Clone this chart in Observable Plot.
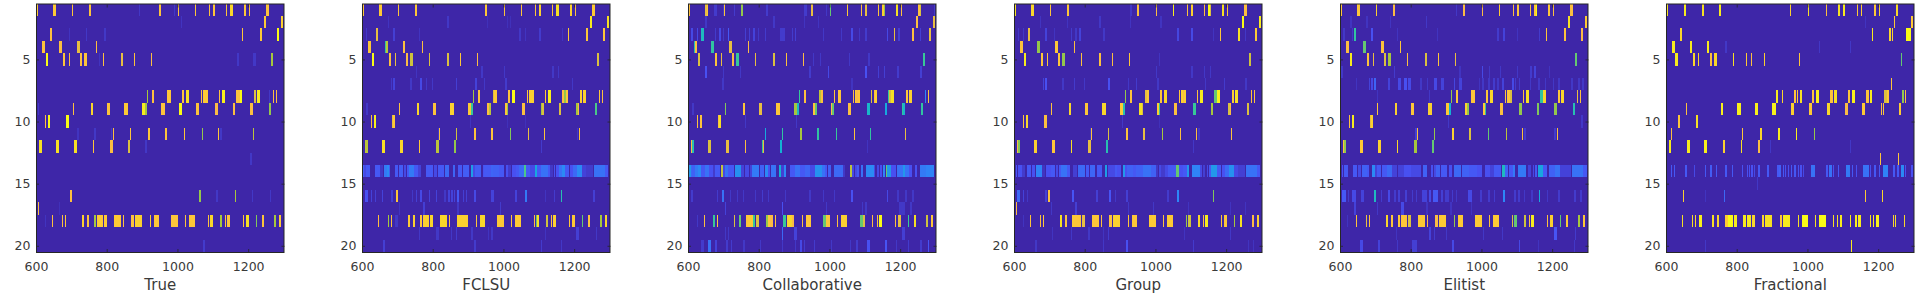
<!DOCTYPE html>
<html><head><meta charset="utf-8">
<script src="https://cdn.jsdelivr.net/npm/d3@7"></script>
<script src="https://cdn.jsdelivr.net/npm/@observablehq/plot@0.6"></script>
<style>
html,body{margin:0;padding:0;background:#fff;width:1917px;height:293px;overflow:hidden}
.p{position:absolute;top:0}
svg{display:block}
</style></head><body><div id="c"></div>
<script>
const parulaStops=[0,.125,.25,.375,.5,.625,.75,.88,.95,1];
const parulaColors=["#3E26A8","#4852F4","#2D87F7","#11B1D6","#37C897","#ABC739","#FBBB45","#FDC935","#F6E024","#F9FB15"];
const xTicks=[600,800,1000,1200];
const yTicks=[5,10,15,20];
const titles=["True","FCLSU","Collaborative","Group","Elitist","Fractional"];
const panelLeft=[0,326.3,652.3,978,1304.3,1630.3];

const trueBars=[
[1,602,605,.88],[1,648,657,.88],[1,702,705,.85],[1,750,755,.82],[1,890,895,.05],[1,948,954,.82],[1,990,993,.05],[1,1001,1005,.82],[1,1050,1053,.85],[1,1090,1093,.8],[1,1101,1107,.85],[1,1137,1140,.85],[1,1149,1158,.92],[1,1189,1194,.85],[1,1202,1205,.8],[1,1251,1259,.82],
[2,1010,1013,.04],[2,1246,1251,.88],[2,1293,1299,.9],
[3,640,645,.8],[3,693,696,.04],[3,741,744,.05],[3,792,798,.05],[3,1183,1186,.85],[3,1234,1240,.88],[3,1282,1288,1],
[4,617,625,.82],[4,665,674,.78],[4,716,725,.72],[4,770,773,.78],
[5,628,634,1],[5,676,682,.82],[5,693,696,.8],[5,725,730,.8],[5,736,744,.82],[5,778,781,.04],[5,790,792,.8],[5,841,846,.72],[5,877,880,.82],[5,925,928,.78],[5,1169,1175,.05],[5,1214,1222,.05],[5,1265,1271,.62],
[8,914,917,.62],[8,928,934,.8],[8,971,982,.85],[8,1013,1019,.82],[8,1025,1033,.95],[8,1067,1070,.8],[8,1073,1087,.88],[8,1118,1121,.8],[8,1126,1135,.98],[8,1166,1177,.82],[8,1177,1183,1],[8,1217,1223,.7],[8,1225,1234,.97],[8,1259,1262,.05],[8,1271,1274,.78],[8,1279,1282,.8],
[9,606,608,.05],[9,705,708,.8],[9,756,761,.92],[9,801,809,.82],[9,849,860,.88],[9,900,908,.97],[9,908,914,.62],[9,954,965,.82],[9,1005,1013,1],[9,1053,1061,.82],[9,1107,1115,.75],[9,1158,1163,.78],[9,1206,1214,.78],[9,1259,1265,.6],
[10,625,628,.8],[10,634,640,1],[10,685,693,1],
[11,716,722,.04],[11,764,770,.05],[11,812,815,.05],[11,818,821,.8],[11,866,869,.82],[11,917,923,.85],[11,965,971,.82],[11,1019,1022,.85],[11,1070,1073,.6],[11,1115,1118,.85],[11,1121,1126,.05],[11,1214,1217,.65],
[12,608,617,.95],[12,657,665,.95],[12,708,716,.95],[12,761,764,.85],[12,809,818,.78],[12,860,866,.7],[12,909,914,.05],
[13,1206,1211,.05],
[16,696,702,.8],[16,1061,1067,.6],[16,1109,1115,.05],[16,1163,1166,.62],[16,1211,1214,.05],[16,1262,1265,.05],
[17,606,608,.8],[17,665,668,.03],
[18,625,628,.04],[18,645,648,.8],[18,674,676,.8],[18,682,685,.82],[18,730,736,.9],[18,744,750,.82],[18,764,770,.62],[18,773,790,.88],[18,792,801,.88],[18,821,841,.88],[18,846,849,.8],[18,869,877,.82],[18,880,900,.9],[18,923,925,.9],[18,934,948,.85],[18,982,1002,.84],[18,1022,1025,.8],[18,1033,1050,.85],[18,1087,1090,.82],[18,1092,1101,.92],[18,1121,1126,.62],[18,1135,1138,.85],[18,1140,1149,.82],[18,1186,1189,.85],[18,1194,1203,.95],[18,1223,1226,.58],[18,1240,1245,.82],[18,1274,1279,.62],[18,1288,1293,.88],
[20,1073,1079,.06]
];

const fclsuBars=[
[1,602,605,.85],[1,648,657,.88],[1,702,705,.85],[1,750,755,.85],[1,948,954,.85],[1,1001,1005,.82],[1,1050,1053,.85],[1,1090,1093,.82],[1,1101,1107,.9],[1,1137,1140,.85],[1,1149,1158,.95],[1,1189,1194,.9],[1,1202,1205,.8],[1,1251,1259,.88],
[2,673,676,.04],[2,840,845,.05],[2,953,955,.03],[2,1009,1012,.03],[2,1018,1021,.03],[2,1246,1251,.97],[2,1293,1299,.95],
[3,610,613,.05],[3,639,645,.72],[3,687,692,.07],[3,760,763,.04],[3,1043,1049,.05],[3,1060,1063,.04],[3,1100,1105,.06],[3,1165,1168,.04],[3,1182,1185,.85],[3,1233,1239,.85],[3,1281,1287,.85],
[4,617,625,.85],[4,664,667,.5],[4,667,673,.65],[4,715,723,.8],[4,770,773,.78],
[5,628,634,1],[5,676,682,.8],[5,693,696,.72],[5,725,730,.75],[5,736,744,.68],[5,790,792,.7],[5,841,846,.7],[5,877,880,.85],[5,925,928,.75],[5,1265,1271,.7],
[6,752,755,.04],[6,936,941,.05],[6,1001,1004,.05],[6,1137,1142,.05],[6,1154,1157,.05],
[7,681,684,.05],[7,687,692,.08],[7,735,740,.05],[7,763,771,.1],[7,780,783,.05],[7,797,800,.05],[7,865,868,.07],[7,921,924,.08],[7,944,947,.05],[7,1004,1009,.06],[7,1193,1196,.05],
[8,914,917,.62],[8,928,934,.82],[8,971,974,.7],[8,974,982,.88],[8,1013,1019,.82],[8,1025,1033,1],[8,1067,1070,.85],[8,1073,1087,.9],[8,1118,1121,.85],[8,1126,1135,.98],[8,1166,1172,.8],[8,1172,1177,.6],[8,1177,1183,.85],[8,1217,1223,.9],[8,1225,1234,.9],[8,1271,1274,.82],[8,1279,1282,.8],
[9,610,616,.05],[9,705,708,.8],[9,756,761,.92],[9,801,809,.82],[9,849,860,.9],[9,900,908,.88],[9,908,914,.5],[9,954,959,.8],[9,959,965,.65],[9,1005,1011,.85],[9,1011,1013,.6],[9,1053,1061,.8],[9,1107,1110,.62],[9,1110,1115,.7],[9,1158,1163,.7],[9,1206,1211,.62],[9,1211,1214,.75],[9,1259,1265,.52],
[10,625,628,.78],[10,634,640,.98],[10,685,688,.72],[10,688,693,.88],[10,905,908,.04],[10,1009,1012,.03],[10,1060,1063,.03],
[11,814,817,.05],[11,818,821,.8],[11,866,869,.68],[11,917,923,.82],[11,965,971,.82],[11,1019,1022,.58],[11,1070,1073,.72],[11,1115,1118,.82],[11,1207,1210,.05],[11,1214,1217,.8],
[12,608,617,.65],[12,657,665,.95],[12,708,716,.92],[12,761,764,.85],[12,809,818,.65],[12,860,866,.6],[12,1105,1108,.06],
[14,603,607,.15],[14,607,611,.1],[14,611,624,.14],[14,638,651,.14],[14,651,658,.05],[14,663,670,.22],[14,670,675,.26],[14,675,680,.16],[14,692,703,.14],[14,706,715,.15],[14,718,724,.1],[14,726,734,.14],[14,734,748,.22],[14,748,757,.14],[14,757,767,.08],[14,781,802,.14],[14,805,811,.1],[14,814,833,.14],[14,836,845,.18],[14,857,863,.17],[14,872,883,.14],[14,885,902,.15],[14,907,914,.32],[14,914,919,.1],[14,919,937,.15],[14,943,946,.12],[14,946,965,.14],[14,965,970,.17],[14,970,988,.16],[14,988,1003,.14],[14,1007,1012,.12],[14,1012,1021,.06],[14,1024,1036,.12],[14,1036,1045,.14],[14,1045,1058,.18],[14,1059,1065,.52],[14,1065,1075,.14],[14,1075,1083,.1],[14,1083,1088,.1],[14,1089,1095,.35],[14,1095,1106,.14],[14,1106,1125,.2],[14,1125,1132,.14],[14,1132,1139,.05],[14,1144,1147,.12],[14,1149,1156,.12],[14,1158,1166,.2],[14,1166,1175,.26],[14,1175,1185,.14],[14,1187,1196,.12],[14,1196,1207,.18],[14,1207,1222,.26],[14,1222,1234,.08],[14,1234,1253,.06],[14,1257,1286,.2],[14,1286,1295,.14],
[16,608,616,.12],[16,625,627,.08],[16,636,639,.07],[16,656,659,.08],[16,681,687,.07],[16,695,701,.85],[16,741,743,.05],[16,752,755,.07],[16,763,769,.1],[16,789,791,.08],[16,808,811,.08],[16,831,837,.05],[16,842,848,.08],[16,851,856,.08],[16,859,862,.08],[16,868,873,.14],[16,885,888,.07],[16,893,896,.07],[16,916,922,.1],[16,964,972,.08],[16,1032,1038,.08],[16,1060,1066,.22],[16,1117,1120,.04],[16,1142,1145,.06],[16,1162,1165,.45],[16,1253,1258,.07],
[17,605,607,.75],[17,704,707,.04],[17,772,777,.07],[17,868,873,.05],[17,989,992,.06],
[18,645,648,.8],[18,673,676,.62],[18,681,684,.82],[18,692,701,.05],[18,729,735,.88],[18,743,749,.9],[18,763,769,.88],[18,772,789,.9],[18,792,800,.92],[18,820,840,.92],[18,845,848,.85],[18,868,899,.9],[18,923,925,.85],[18,934,948,.92],[18,981,1001,.87],[18,1022,1025,.85],[18,1032,1049,.88],[18,1087,1090,.8],[18,1092,1096,.55],[18,1096,1101,.95],[18,1120,1126,.68],[18,1134,1137,.8],[18,1140,1148,.9],[18,1185,1188,.85],[18,1193,1202,.88],[18,1222,1225,.55],[18,1239,1245,.8],[18,1273,1278,.62],[18,1287,1293,.92],
[19,760,763,.05],[19,808,817,.05],[19,851,854,.05],[19,865,868,.06],[19,907,913,.05],[19,955,958,.04],[19,964,970,.05],[19,1117,1120,.04],[19,1204,1213,.07],[19,1261,1264,.05],
[20,658,664,.07],[20,916,922,.06],[20,1105,1108,.06],[20,1162,1165,.05]
];

const collabBars=[
[1,602,605,.8],[1,648,653,.72],[1,653,657,.85],[1,673,681,.06],[1,698,701,.05],[1,702,705,.85],[1,729,732,.06],[1,750,755,.6],[1,820,825,.06],[1,927,936,.06],[1,948,954,.72],[1,990,993,.05],[1,1001,1005,.55],[1,1050,1053,.88],[1,1090,1093,.8],[1,1101,1107,.72],[1,1137,1140,.85],[1,1149,1153,.9],[1,1153,1158,.6],[1,1189,1194,.95],[1,1202,1205,.8],[1,1251,1255,.82],[1,1255,1259,.7],[1,1295,1298,.06],
[2,647,653,.05],[2,840,845,.05],[2,927,930,.04],[2,967,970,.04],[2,1244,1250,.8],[2,1292,1298,.72],
[3,608,613,.1],[3,625,627,.1],[3,638,644,.42],[3,675,678,.06],[3,687,692,.1],[3,698,701,.05],[3,712,715,.14],[3,760,763,.07],[3,772,775,.07],[3,783,789,.08],[3,797,800,.05],[3,817,820,.06],[3,859,873,.06],[3,893,896,.06],[3,902,905,.07],[3,981,984,.05],[3,1032,1035,.05],[3,1060,1066,.1],[3,1083,1086,.05],[3,1100,1105,.06],[3,1162,1165,.1],[3,1182,1185,.72],[3,1193,1199,.07],[3,1233,1240,.8],[3,1255,1258,.07],[3,1281,1287,.72],
[4,617,619,.45],[4,619,625,.78],[4,665,673,.48],[4,716,724,.72],[4,770,773,.75],
[5,628,634,.7],[5,676,681,.82],[5,693,696,.72],[5,725,730,.75],[5,736,744,.5],[5,790,792,.72],[5,840,846,.7],[5,877,880,.82],[5,925,928,.75],[5,953,956,.05],[5,972,975,.05],[5,1054,1057,.05],[5,1108,1114,.05],[5,1265,1270,.5],
[6,602,604,.1],[6,647,653,.12],[6,698,701,.05],[6,746,749,.05],[6,941,947,.06],[6,995,998,.1],[6,1100,1105,.12],[6,1137,1140,.07],[6,1154,1157,.07],[6,1190,1196,.06],[6,1255,1261,.07],
[7,695,701,.05],[7,1060,1066,.04],
[8,913,916,.5],[8,927,933,.8],[8,970,976,.65],[8,976,981,.8],[8,1012,1017,.85],[8,1024,1032,.85],[8,1066,1069,.75],[8,1072,1075,.9],[8,1075,1081,.75],[8,1081,1086,.85],[8,1117,1120,.7],[8,1126,1130,.78],[8,1130,1134,.9],[8,1165,1169,.5],[8,1169,1174,.7],[8,1174,1182,.95],[8,1216,1222,.85],[8,1224,1233,.9],[8,1270,1273,.25],[8,1279,1281,.82],
[9,610,616,.05],[9,704,707,.58],[9,755,760,.85],[9,800,808,.72],[9,848,859,.85],[9,899,907,.62],[9,907,913,.42],[9,953,958,.85],[9,958,964,.55],[9,1004,1008,.8],[9,1008,1012,.55],[9,1052,1060,.8],[9,1106,1114,.4],[9,1157,1162,.35],[9,1205,1209,.48],[9,1209,1213,.4],[9,1258,1264,.48],
[10,625,627,.8],[10,633,639,.82],[10,684,688,.8],[10,688,692,.95],[10,760,763,.05],[10,905,908,.05],
[11,817,820,.35],[11,865,868,.48],[11,916,922,.62],[11,964,970,.48],[11,1018,1021,.5],[11,1069,1072,.82],[11,1114,1117,.48],[11,1213,1216,.72],
[12,608,612,.78],[12,612,616,.45],[12,656,664,.7],[12,707,715,.72],[12,760,763,.78],[12,808,812,.5],[12,812,816,.72],[12,859,865,.38],[12,1105,1108,.04],
[14,603,608,.3],[14,608,612,.18],[14,612,621,.16],[14,621,627,.22],[14,627,637,.26],[14,637,647,.14],[14,647,658,.2],[14,658,671,.12],[14,671,675,.06],[14,675,691,.14],[14,693,699,.66],[14,699,706,.1],[14,706,713,.2],[14,713,729,.14],[14,734,751,.28],[14,751,757,.08],[14,762,772,.1],[14,776,781,.08],[14,781,800,.22],[14,805,814,.16],[14,817,826,.26],[14,826,833,.12],[14,836,849,.2],[14,857,864,.38],[14,864,871,.07],[14,871,877,.25],[14,888,904,.14],[14,904,918,.2],[14,918,932,.14],[14,932,946,.17],[14,946,958,.1],[14,958,979,.28],[14,979,987,.2],[14,988,994,.14],[14,996,1004,.16],[14,1012,1038,.18],[14,1038,1043,.05],[14,1059,1065,.65],[14,1065,1070,.1],[14,1071,1077,.1],[14,1079,1085,.14],[14,1089,1095,.2],[14,1104,1125,.26],[14,1125,1130,.1],[14,1135,1140,.1],[14,1144,1149,.12],[14,1151,1158,.24],[14,1161,1164,.55],[14,1164,1175,.3],[14,1175,1187,.12],[14,1192,1209,.2],[14,1209,1213,.3],[14,1213,1224,.2],[14,1226,1234,.12],[14,1241,1249,.12],[14,1256,1273,.22],[14,1273,1295,.24],
[16,608,613,.06],[16,681,684,.06],[16,695,701,.2],[16,718,721,.05],[16,738,741,.05],[16,755,758,.05],[16,789,792,.05],[16,808,811,.06],[16,825,828,.05],[16,873,876,.05],[16,941,947,.05],[16,981,984,.05],[16,1012,1015,.05],[16,1060,1066,.12],[16,1162,1165,.1],[16,1190,1196,.05],[16,1213,1219,.05],[16,1233,1238,.05],
[17,605,607,.45],[17,639,641,.05],[17,704,707,.08],[17,865,868,.12],[17,989,992,.05],[17,1091,1094,.05],[17,1100,1105,.05],[17,1197,1213,.05],[17,1227,1233,.05],
[18,625,628,.05],[18,644,647,.8],[18,672,675,.5],[18,681,684,.85],[18,729,734,.7],[18,743,749,.55],[18,763,771,.82],[18,771,783,.88],[18,783,789,.5],[18,792,800,.7],[18,820,826,.6],[18,826,833,.85],[18,833,840,.75],[18,845,848,.8],[18,868,876,.5],[18,879,885,.9],[18,885,894,.92],[18,894,899,.75],[18,922,925,.8],[18,933,947,.85],[18,981,990,.55],[18,990,1001,.82],[18,1022,1025,.8],[18,1032,1049,.9],[18,1086,1094,.55],[18,1094,1100,.7],[18,1120,1123,.75],[18,1134,1137,.75],[18,1140,1148,1],[18,1185,1188,.8],[18,1193,1202,.72],[18,1222,1225,.5],[18,1239,1244,.95],[18,1272,1278,.68],[18,1287,1292,.85],
[19,704,707,.05],[19,712,715,.05],[19,865,868,.18],[19,899,907,.08],[19,1205,1213,.07],
[20,619,621,.05],[20,636,644,.06],[20,656,664,.2],[20,675,681,.08],[20,707,712,.06],[20,721,724,.06],[20,755,760,.05],[20,803,806,.05],[20,865,868,.05],[20,902,905,.05],[20,916,922,.1],[20,927,930,.06],[20,955,958,.06],[20,1004,1007,.05],[20,1057,1060,.05],[20,1074,1080,.06],[20,1105,1114,.12],[20,1156,1162,.13],[20,1187,1190,.05],[20,1221,1224,.06],[20,1255,1261,.06],[20,1278,1281,.13]
];

const groupBars=[
[1,602,605,.95],[1,648,657,.92],[1,702,705,.82],[1,750,755,.85],[1,927,933,.05],[1,948,954,.8],[1,1001,1005,.78],[1,1050,1053,.98],[1,1090,1093,.82],[1,1101,1107,.9],[1,1137,1140,.78],[1,1149,1153,1],[1,1153,1158,.7],[1,1189,1194,.95],[1,1202,1205,.82],[1,1251,1259,.78],
[2,674,676,.04],[2,750,753,.04],[2,840,846,.05],[2,928,931,.04],[2,1013,1019,.04],[2,1246,1251,1],[2,1293,1299,.97],
[3,611,614,.05],[3,625,628,.05],[3,640,645,.72],[3,688,693,.08],[3,713,716,.04],[3,761,764,.06],[3,773,778,.05],[3,784,790,.08],[3,852,857,.05],[3,1061,1067,.09],[3,1101,1106,.1],[3,1163,1166,.04],[3,1183,1186,.85],[3,1234,1240,.95],[3,1254,1257,.05],[3,1282,1288,.88],
[4,617,625,.82],[4,665,674,.6],[4,716,725,.85],[4,770,773,.78],
[5,628,634,.97],[5,676,682,.85],[5,693,696,.82],[5,725,730,.85],[5,736,744,.6],[5,790,792,.82],[5,841,846,.8],[5,877,880,.78],[5,925,928,.82],[5,1010,1013,.04],[5,1265,1271,.68],
[6,1002,1005,.05],[6,1101,1106,.05],[6,1137,1140,.05],[6,1154,1157,.05],
[7,682,685,.08],[7,688,693,.12],[7,736,741,.05],[7,770,773,.06],[7,798,801,.05],[7,866,872,.12],[7,922,925,.05],[7,945,948,.06],[7,1005,1010,.05],[7,1140,1143,.05],[7,1194,1197,.06],[7,1254,1259,.05],
[8,914,917,.6],[8,928,934,.82],[8,971,977,.72],[8,977,982,.85],[8,1013,1019,.85],[8,1025,1033,.92],[8,1067,1070,.85],[8,1073,1077,.9],[8,1077,1082,.75],[8,1082,1087,.9],[8,1118,1121,.8],[8,1126,1135,.97],[8,1166,1175,.55],[8,1175,1183,.98],[8,1217,1223,.9],[8,1225,1234,.95],[8,1271,1274,.82],[8,1279,1282,.82],
[9,705,708,.82],[9,756,761,.92],[9,801,809,.85],[9,849,860,.92],[9,900,908,.88],[9,908,914,.45],[9,954,962,.95],[9,962,965,.7],[9,1005,1010,.9],[9,1010,1013,.5],[9,1053,1061,.8],[9,1107,1115,.5],[9,1158,1163,.62],[9,1206,1211,.7],[9,1211,1214,.78],[9,1259,1265,.7],
[10,625,628,.85],[10,634,640,.92],[10,685,693,.8],[10,906,909,.05],[10,1010,1013,.03],
[11,815,818,.05],[11,818,821,.82],[11,866,869,.7],[11,917,923,.82],[11,965,971,.72],[11,1019,1022,.62],[11,1070,1073,.78],[11,1115,1118,.78],[11,1120,1126,.05],[11,1214,1217,.82],
[12,608,611,.78],[12,611,617,.58],[12,657,665,.9],[12,708,716,.85],[12,761,764,.95],[12,809,818,.72],[12,860,866,.45],[12,1106,1109,.05],
[14,605,608,.14],[14,611,624,.12],[14,624,630,.06],[14,638,649,.14],[14,651,658,.12],[14,663,679,.24],[14,679,687,.04],[14,691,704,.12],[14,706,715,.14],[14,718,724,.1],[14,726,734,.14],[14,734,749,.2],[14,749,758,.14],[14,767,777,.07],[14,781,802,.18],[14,804,811,.14],[14,814,830,.17],[14,836,849,.14],[14,857,864,.32],[14,866,885,.1],[14,885,892,.14],[14,892,904,.12],[14,907,914,.3],[14,914,919,.12],[14,919,937,.16],[14,937,946,.14],[14,946,965,.16],[14,965,988,.2],[14,988,1003,.16],[14,1003,1007,.05],[14,1009,1017,.1],[14,1017,1026,.06],[14,1028,1036,.1],[14,1036,1047,.14],[14,1047,1058,.14],[14,1059,1066,.55],[14,1066,1077,.12],[14,1079,1088,.14],[14,1089,1096,.3],[14,1104,1125,.24],[14,1125,1132,.1],[14,1134,1139,.07],[14,1145,1149,.1],[14,1151,1158,.14],[14,1158,1175,.3],[14,1175,1185,.14],[14,1187,1196,.12],[14,1196,1207,.18],[14,1207,1222,.28],[14,1222,1234,.1],[14,1234,1253,.07],[14,1255,1286,.2],[14,1286,1295,.14],
[16,608,616,.18],[16,625,628,.08],[16,637,640,.05],[16,688,693,.07],[16,696,702,.8],[16,764,770,.13],[16,832,838,.07],[16,869,874,.13],[16,886,889,.05],[16,917,922,.07],[16,1033,1038,.06],[16,1061,1067,.25],[16,1163,1166,.58],
[17,606,608,.78],[17,705,708,.05],[17,773,778,.07],[17,922,925,.05],[17,993,996,.05],[17,1092,1095,.04],[17,1211,1214,.04],[17,1254,1257,.04],
[18,625,628,.04],[18,645,648,.82],[18,674,676,.8],[18,682,685,.85],[18,730,736,.95],[18,744,750,.8],[18,764,773,.88],[18,773,790,.85],[18,792,801,.72],[18,821,841,.85],[18,846,849,.8],[18,869,877,.8],[18,880,900,.9],[18,923,925,.85],[18,934,948,.85],[18,982,1002,.88],[18,1022,1025,.82],[18,1033,1050,.88],[18,1087,1090,.6],[18,1092,1101,.68],[18,1121,1126,.92],[18,1135,1138,.8],[18,1140,1149,.97],[18,1186,1189,.82],[18,1194,1203,.85],[18,1223,1226,.62],[18,1240,1245,.95],[18,1274,1279,.75],[18,1288,1293,.9],
[19,708,711,.04],[19,761,764,.05],[19,809,815,.05],[19,852,855,.04],[19,866,869,.06],[19,1081,1084,.04],[19,1211,1214,.05],
[20,659,665,.05],[20,852,855,.05],[20,917,922,.12],[20,1106,1109,.06],[20,1262,1265,.04],[20,1276,1279,.04]
];

const elitistBars=[
[1,602,605,.85],[1,648,657,.85],[1,702,705,.9],[1,750,755,.75],[1,927,930,.05],[1,948,954,.75],[1,1001,1005,.75],[1,1050,1053,.88],[1,1090,1093,.8],[1,1101,1107,.85],[1,1137,1140,.82],[1,1149,1153,.88],[1,1153,1158,1],[1,1189,1194,.85],[1,1202,1205,.8],[1,1251,1259,.78],
[2,627,633,.04],[2,673,678,.04],[2,741,744,.04],[2,842,845,.05],[2,1246,1251,.95],[2,1293,1299,.88],
[3,608,613,.05],[3,633,636,.05],[3,640,645,.48],[3,687,692,.12],[3,760,763,.04],[3,873,876,.04],[3,1043,1049,.06],[3,1060,1066,.08],[3,1100,1103,.04],[3,1162,1165,.06],[3,1183,1186,.85],[3,1234,1240,.82],[3,1282,1288,.75],
[4,617,625,.78],[4,665,674,.55],[4,716,725,.82],[4,770,773,.85],
[5,628,634,.97],[5,676,682,.82],[5,693,696,.72],[5,725,730,.7],[5,736,744,.62],[5,790,792,.78],[5,841,846,.7],[5,877,880,.85],[5,925,928,.72],[5,1265,1271,.55],
[6,602,608,.05],[6,752,755,.06],[6,936,941,.04],[6,1001,1004,.1],[6,1021,1024,.05],[6,1052,1055,.05],[6,1100,1103,.05],[6,1137,1142,.06],[6,1148,1154,.08],[6,1190,1193,.04],
[7,644,647,.04],[7,681,684,.08],[7,687,692,.1],[7,695,701,.17],[7,735,741,.08],[7,763,772,.1],[7,780,789,.12],[7,791,800,.1],[7,825,831,.05],[7,845,848,.05],[7,865,873,.1],[7,885,893,.08],[7,922,925,.09],[7,936,944,.08],[7,992,995,.04],[7,1001,1006,.05],[7,1018,1023,.05],[7,1032,1038,.06],[7,1043,1049,.05],[7,1057,1063,.08],[7,1086,1091,.1],[7,1094,1097,.06],[7,1105,1108,.06],[7,1137,1140,.05],[7,1159,1165,.05],[7,1179,1182,.05],[7,1202,1205,.05],[7,1216,1221,.05],[7,1253,1258,.05],[7,1272,1278,.05],[7,1284,1289,.05],
[8,704,707,.04],[8,851,854,.05],[8,914,917,.6],[8,928,934,.85],[8,971,982,.85],[8,1013,1019,.85],[8,1025,1033,.92],[8,1067,1070,.85],[8,1073,1080,.85],[8,1080,1087,.7],[8,1118,1121,.8],[8,1126,1135,.95],[8,1166,1175,.48],[8,1175,1183,.92],[8,1217,1223,.85],[8,1225,1234,.92],[8,1271,1274,.72],[8,1279,1282,.8],
[9,705,708,.85],[9,756,761,.9],[9,801,809,.85],[9,849,860,.9],[9,900,908,.88],[9,908,914,.38],[9,954,960,.9],[9,960,965,.6],[9,1005,1010,.88],[9,1010,1013,.5],[9,1053,1061,.8],[9,1107,1115,.6],[9,1158,1163,.58],[9,1206,1214,.6],[9,1259,1265,.45],
[10,625,628,.8],[10,634,640,.97],[10,685,689,.72],[10,689,693,.9],[10,905,908,.05],[10,1281,1287,.05],
[11,811,817,.07],[11,818,821,.8],[11,866,869,.6],[11,917,923,.9],[11,965,971,.7],[11,1019,1022,.55],[11,1070,1073,.65],[11,1115,1118,.8],[11,1120,1126,.06],[11,1205,1210,.06],[11,1214,1217,.78],
[12,608,611,.85],[12,611,617,.6],[12,657,665,.88],[12,708,716,.9],[12,761,764,.92],[12,809,818,.62],[12,860,866,.55],
[14,605,609,.12],[14,611,624,.14],[14,638,649,.14],[14,651,658,.1],[14,663,675,.16],[14,675,682,.14],[14,691,699,.26],[14,699,704,.08],[14,706,715,.14],[14,718,734,.14],[14,734,748,.18],[14,748,760,.08],[14,764,781,.08],[14,781,802,.12],[14,802,828,.1],[14,836,845,.16],[14,857,863,.12],[14,866,872,.1],[14,872,883,.16],[14,885,904,.14],[14,907,918,.12],[14,922,941,.18],[14,946,965,.16],[14,965,988,.14],[14,988,1003,.12],[14,1009,1024,.12],[14,1024,1036,.08],[14,1036,1055,.14],[14,1059,1066,.42],[14,1066,1075,.16],[14,1078,1088,.14],[14,1089,1095,.22],[14,1104,1125,.22],[14,1132,1139,.08],[14,1145,1149,.1],[14,1151,1158,.14],[14,1161,1175,.34],[14,1175,1185,.14],[14,1192,1207,.16],[14,1207,1222,.2],[14,1222,1234,.08],[14,1234,1253,.08],[14,1257,1286,.2],[14,1286,1298,.14],
[16,605,616,.14],[16,622,625,.06],[16,633,644,.1],[16,658,667,.08],[16,695,701,.42],[16,715,718,.06],[16,735,741,.1],[16,752,757,.06],[16,763,769,.07],[16,783,789,.07],[16,803,806,.06],[16,814,817,.06],[16,831,845,.08],[16,851,857,.1],[16,862,876,.14],[16,885,890,.07],[16,896,907,.06],[16,916,919,.06],[16,927,930,.05],[16,961,972,.1],[16,995,1001,.06],[16,1018,1023,.06],[16,1035,1038,.06],[16,1060,1066,.25],[16,1091,1097,.06],[16,1103,1108,.06],[16,1120,1123,.05],[16,1140,1145,.05],[16,1162,1165,.35],[16,1185,1188,.05],[16,1216,1221,.06],[16,1261,1267,.06],[16,1278,1284,.06],
[17,605,607,.62],[17,639,644,.08],[17,704,707,.05],[17,772,780,.1],[17,842,848,.04],[17,910,916,.04],[17,970,973,.04],
[18,619,622,.04],[18,645,648,.82],[18,674,676,.72],[18,682,685,.8],[18,730,736,.92],[18,744,750,.85],[18,764,770,.88],[18,773,790,.85],[18,792,801,.7],[18,821,841,.87],[18,846,849,.75],[18,869,877,.75],[18,880,900,.88],[18,923,925,.6],[18,934,948,.88],[18,982,1002,.88],[18,1022,1025,.8],[18,1033,1050,.88],[18,1087,1090,.7],[18,1092,1101,.55],[18,1121,1126,.68],[18,1135,1138,.8],[18,1140,1149,.97],[18,1186,1189,.8],[18,1194,1203,.9],[18,1223,1226,.55],[18,1240,1245,.88],[18,1274,1279,.62],[18,1288,1293,.88],
[19,757,760,.04],[19,851,857,.08],[19,865,868,.06],[19,899,902,.05],[19,1004,1007,.05],[19,1057,1060,.05],[19,1205,1213,.13],[19,1264,1267,.06],
[20,656,664,.1],[20,707,712,.08],[20,760,763,.05],[20,803,817,.07],[20,916,922,.1],[20,1105,1108,.1],[20,1159,1162,.04],[20,1261,1264,.05]
];

const fractionalBars=[
[1,602,605,.95],[1,650,656,.97],[1,701,707,.95],[1,749,755,.97],[1,950,953,.9],[1,1001,1004,.95],[1,1052,1055,.8],[1,1086,1091,.95],[1,1100,1105,.97],[1,1139,1142,.88],[1,1151,1154,.9],[1,1187,1193,.85],[1,1202,1205,.9],[1,1250,1255,.93],
[2,1162,1165,.04],[2,1244,1247,.85],[2,1292,1298,.88],
[3,641,644,.92],[3,1182,1185,.97],[3,1230,1236,.92],[3,1238,1241,.92],[3,1278,1292,1],
[4,616,625,.97],[4,667,673,.97],[4,715,721,.97],[4,766,772,.05],[4,1032,1035,.05],[4,1120,1122,.05],
[5,625,633,.97],[5,675,681,.92],[5,690,693,.92],[5,724,729,.8],[5,735,743,.92],[5,789,792,.95],[5,825,828,.88],[5,840,842,.8],[5,876,879,.9],[5,975,978,.82],[5,1264,1267,.55],
[7,1236,1238,.85],
[8,910,916,.97],[8,927,930,.92],[8,961,967,.85],[8,970,972,.85],[8,978,984,.95],[8,1012,1018,.82],[8,1023,1032,.98],[8,1063,1072,.82],[8,1074,1083,.95],[8,1114,1120,.85],[8,1125,1134,.98],[8,1165,1173,.82],[8,1176,1182,.97],[8,1216,1224,.7],[8,1224,1230,.88],[8,1267,1272,.6],[8,1275,1278,.8],
[9,605,607,.97],[9,656,658,.8],[9,755,760,.98],[9,800,811,.98],[9,851,859,.98],[9,899,910,.98],[9,953,961,.9],[9,1004,1012,.88],[9,1055,1063,.92],[9,1105,1114,.75],[9,1154,1162,.88],[9,1207,1210,.8],[9,1213,1216,.85],[9,1258,1264,.88],
[10,633,641,.85],[10,684,690,.95],
[11,613,616,.78],[11,814,817,.85],[11,865,871,.92],[11,916,922,.97],[11,967,970,.98],[11,1018,1020,.6],
[12,608,613,.97],[12,658,667,.97],[12,707,715,.98],[12,760,766,.9],[12,811,814,.95],[12,859,865,.78],[12,893,896,.05],[12,1120,1122,.05],
[13,1204,1207,.82],[13,1255,1258,.82],
[14,613,616,.14],[14,622,625,.14],[14,639,641,.14],[14,653,658,.14],[14,678,681,.1],[14,687,689,.1],[14,709,712,.14],[14,724,729,.15],[14,740,743,.14],[14,766,772,.14],[14,786,789,.14],[14,814,817,.12],[14,828,831,.12],[14,834,837,.12],[14,840,845,.12],[14,848,851,.1],[14,859,865,.14],[14,868,870,.12],[14,885,890,.14],[14,913,919,.14],[14,919,924,.16],[14,930,933,.14],[14,936,939,.12],[14,944,947,.12],[14,953,955,.14],[14,961,967,.14],[14,972,975,.12],[14,978,984,.12],[14,987,989,.1],[14,1009,1020,.2],[14,1052,1057,.14],[14,1060,1069,.2],[14,1072,1074,.12],[14,1086,1089,.14],[14,1108,1120,.22],[14,1125,1128,.14],[14,1136,1139,.12],[14,1156,1173,.2],[14,1176,1179,.12],[14,1187,1193,.14],[14,1202,1205,.14],[14,1213,1227,.24],[14,1241,1247,.14],[14,1252,1258,.14],[14,1264,1272,.26],[14,1275,1278,.12],[14,1292,1298,.12],
[15,856,859,.05],
[16,647,650,.9],[16,709,712,.04],[16,763,766,.18],[16,1162,1165,.88],[16,1210,1213,.92],
[17,670,672,.06],
[18,644,647,.95],[18,673,675,.95],[18,681,684,.9],[18,692,701,.98],[18,721,723,.92],[18,729,735,.95],[18,743,749,.92],[18,766,774,.88],[18,774,789,1],[18,791,800,.97],[18,817,825,.97],[18,828,840,.97],[18,842,851,.92],[18,871,876,.92],[18,879,899,.95],[18,922,927,.85],[18,930,950,.97],[18,972,975,.95],[18,984,1001,1],[18,1021,1023,.95],[18,1032,1052,1],[18,1072,1074,.95],[18,1083,1086,.95],[18,1091,1097,.97],[18,1120,1122,.97],[18,1134,1139,.97],[18,1142,1151,.97],[18,1176,1179,.95],[18,1185,1187,.97],[18,1193,1202,.98],[18,1241,1244,.92],[18,1247,1250,.95],[18,1272,1275,.92],
[20,709,712,.05],[20,1122,1125,.97]
];

const rowData=bars=>bars.map(b=>({row:b[0],x0:b[1],x1:b[2],v:b[3]}));
const panels=[trueBars,fclsuBars,collabBars,groupBars,elitistBars,fractionalBars].map(rowData);

const root=document.getElementById("c");
panels.forEach((data,i)=>{
  const plot=Plot.plot({
    width:287,height:293,
    marginLeft:36,marginRight:3.5,marginTop:3.5,marginBottom:41,
    style:{fontFamily:"'DejaVu Sans',sans-serif",fontSize:"12.5px",color:"#3a3a3a",background:"transparent"},
    x:{domain:[600,1300]},
    y:{domain:[20.5,.5]},
    color:{type:"linear",domain:parulaStops,range:parulaColors,interpolate:"rgb"},
    marks:[
      Plot.frame({fill:parulaColors[0]}),
      Plot.rect(data,{x1:"x0",x2:"x1",y1:d=>d.row-.5,y2:d=>d.row+.5,fill:"v",clip:true,shapeRendering:"crispEdges"}),
      Plot.axisY(yTicks,{tickSize:-3,tickPadding:9,stroke:"#262626",label:null,strokeWidth:.8}),
      Plot.axisY(yTicks,{anchor:"right",tickSize:-3,tickFormat:()=>"",stroke:"#262626",label:null,strokeWidth:.8}),
      Plot.axisX(xTicks,{tickSize:-3,tickPadding:13,tickFormat:d3.format("d"),stroke:"#262626",label:null,strokeWidth:.8}),
      Plot.axisX(xTicks,{anchor:"top",tickSize:-3,tickFormat:()=>"",stroke:"#262626",label:null,strokeWidth:.8}),
      Plot.axisX([950],{tickSize:0,tickFormat:()=>titles[i],fontSize:15,tickPadding:26.5,label:null}),
      Plot.frame({stroke:"#262626",strokeWidth:1})
    ]
  });
  plot.classList.add("p");
  plot.style.left=panelLeft[i]+"px";
  root.appendChild(plot);
});
</script></body></html>
